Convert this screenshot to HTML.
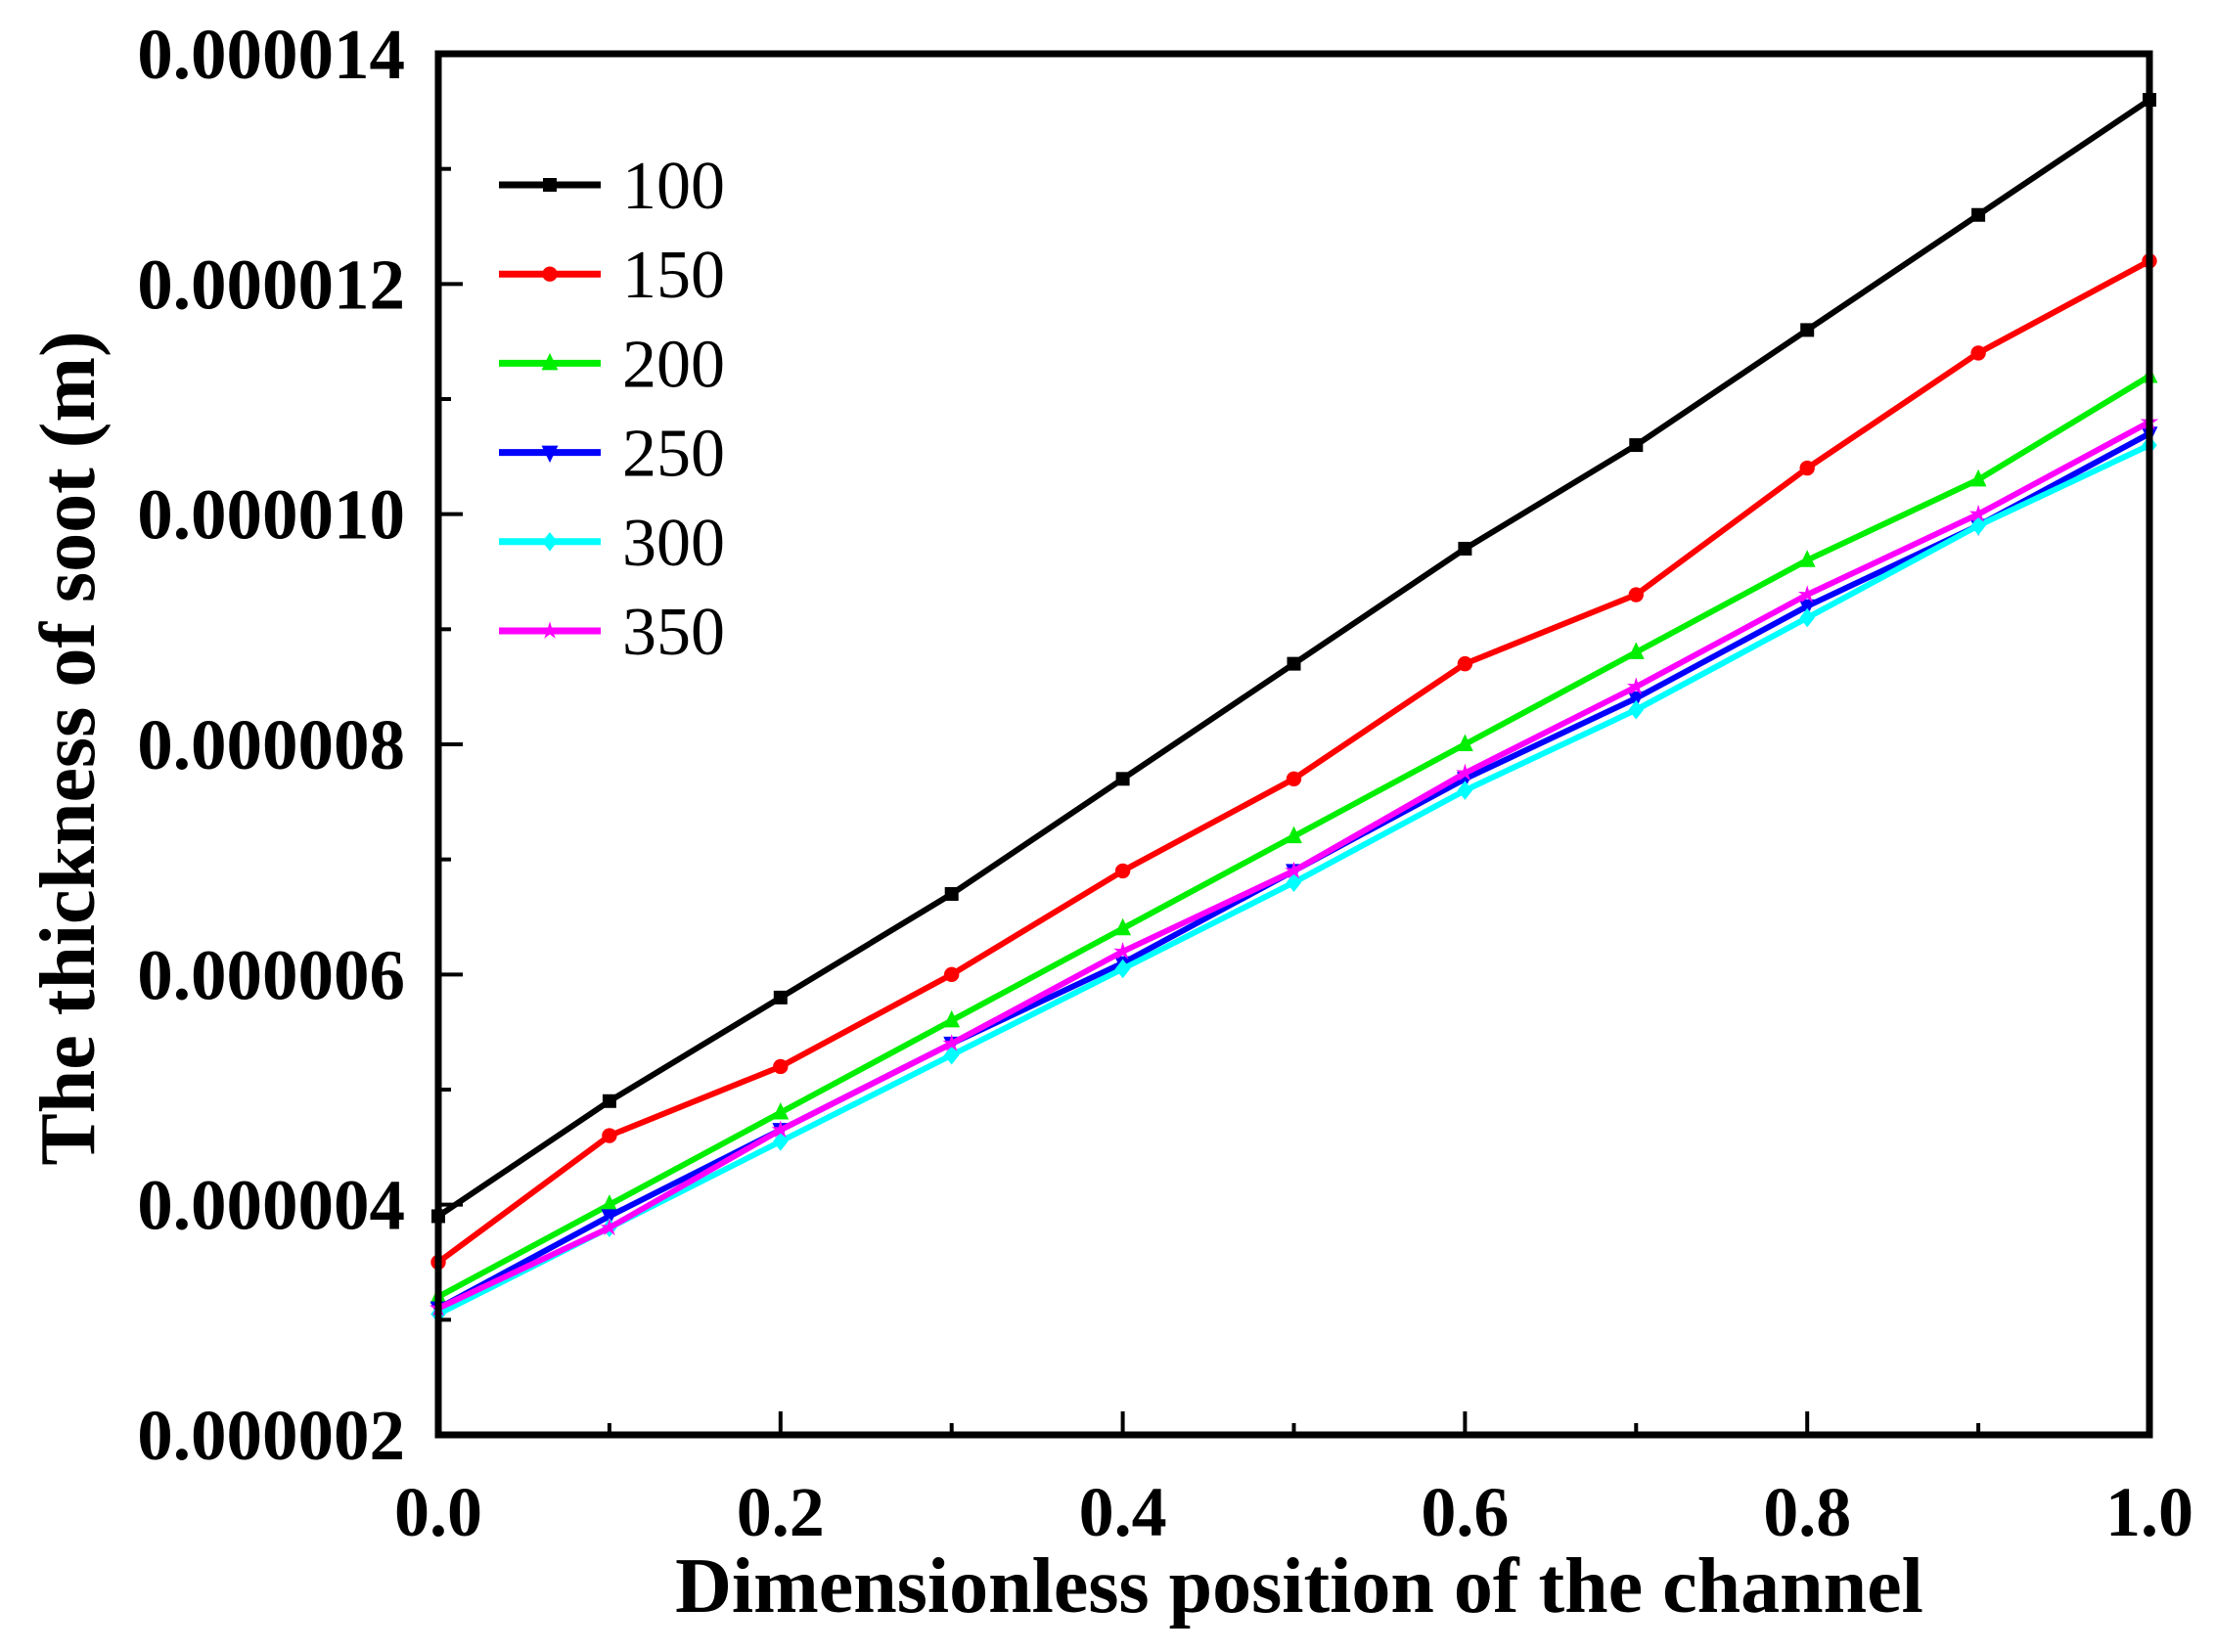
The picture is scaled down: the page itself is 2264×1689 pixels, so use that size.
<!DOCTYPE html>
<html><head><meta charset="utf-8"><style>
html,body{margin:0;padding:0;background:#fff}
svg{display:block}
text{font-family:"Liberation Serif","Times New Roman",serif}
</style></head><body>
<svg id="chart" width="2264" height="1689" viewBox="0 0 2264 1689" xmlns="http://www.w3.org/2000/svg">
<g id="plot"></g>
<g id="axes"></g>
<g id="legend"></g>
<text x="1328" y="1648" font-size="80" font-weight="bold" text-anchor="middle">Dimensionless position of the channel</text>
<text transform="translate(96,765) rotate(-90)" font-size="80" font-weight="bold" text-anchor="middle">The thickness of soot (m)</text>
</svg>
<script>
const xValues = [0,0.1,0.2,0.3,0.4,0.5,0.6,0.7,0.8,0.9,1.0];
const seriesNames = ["100","150","200","250","300","350"];
const s100 = [3.9,4.9,5.8,6.7,7.7,8.7,9.7,10.6,11.6,12.6,13.6];
const s150 = [3.5,4.6,5.2,6.0,6.9,7.7,8.7,9.3,10.4,11.4,12.2];
const s200 = [3.2,4.0,4.8,5.6,6.4,7.2,8.0,8.8,9.6,10.3,11.2];
const s250 = [3.1,3.9,4.65,5.4,6.1,6.9,7.7,8.4,9.2,9.9,10.7];
const s300 = [3.05,3.8,4.55,5.3,6.05,6.8,7.6,8.3,9.1,9.9,10.6];
const s350 = [3.1,3.8,4.65,5.4,6.2,6.9,7.75,8.5,9.3,10.0,10.8];
const xTicks = [0,0.2,0.4,0.6,0.8,1.0];
const xTickLabels = ["0.0","0.2","0.4","0.6","0.8","1.0"];
const yTicks = [2,4,6,8,10,12,14];
const yTickLabels = ["0.000002","0.000004","0.000006","0.000008","0.000010","0.000012","0.000014"];

const NS="http://www.w3.org/2000/svg";
const L=448,R=2197,T=55,B=1467;
const X=v=>L+(v-0)/(1-0)*(R-L);
const Y=v=>B-(v-2)/(14-2)*(B-T);
const colors=["#000000","#ff0000","#00ee00","#0000ff","#00ffff","#ff00ff"];
const markers=["square","circle","up","down","diamond","star"];
const allSeries=[s100,s150,s200,s250,s300,s350];
function mk(tag,attrs,parent){const e=document.createElementNS(NS,tag);for(const k in attrs)e.setAttribute(k,attrs[k]);parent.appendChild(e);return e;}
function marker(kind,cx,cy,col,parent,s){
  let e;
  if(kind==="square")e=mk("rect",{x:cx-s,y:cy-s,width:2*s,height:2*s,fill:col},parent);
  else if(kind==="circle")e=mk("circle",{cx:cx,cy:cy,r:s*1.1,fill:col},parent);
  else if(kind==="up")e=mk("polygon",{points:`${cx},${cy-s*1.5} ${cx-s*1.2},${cy+s} ${cx+s*1.2},${cy+s}`,fill:col},parent);
  else if(kind==="down")e=mk("polygon",{points:`${cx},${cy+s*1.5} ${cx-s*1.2},${cy-s} ${cx+s*1.2},${cy-s}`,fill:col},parent);
  else if(kind==="diamond")e=mk("polygon",{points:`${cx},${cy-s*1.4} ${cx+s*1.1},${cy} ${cx},${cy+s*1.4} ${cx-s*1.1},${cy}`,fill:col},parent);
  else {let p=[];for(let i=0;i<10;i++){const a=-Math.PI/2+i*Math.PI/5,r=i%2?s*0.5:s*1.4;p.push((cx+r*Math.cos(a)).toFixed(1)+","+(cy+r*Math.sin(a)).toFixed(1));}
    e=mk("polygon",{points:p.join(" "),fill:col},parent);}
  return e;
}
const plot=document.getElementById("plot");
allSeries.forEach((arr,si)=>{
  const g=mk("g",{},plot);
  
  
  const pts=arr.map((v,i)=>X(xValues[i]).toFixed(1)+","+Y(v).toFixed(1)).join(" ");
  const pl=mk("polyline",{points:pts,fill:"none",stroke:colors[si],"stroke-width":6,"stroke-linejoin":"round"},g);
  
  
  arr.forEach((v,i)=>{
    const m=marker(markers[si],X(xValues[i]),Y(v),colors[si],g,7);
    
    
  });
});
const axes=document.getElementById("axes");
const frame=mk("rect",{x:L,y:T,width:R-L,height:B-T,fill:"none",stroke:"#000","stroke-width":7},axes);


for(let v=0;v<=1.0001;v+=0.1){
  const major=Math.round(v*10)%2===0;
  mk("line",{x1:X(v),x2:X(v),y1:B,y2:B-(major?24:12),stroke:"#000","stroke-width":4},axes);
}
for(let v=2;v<=14.001;v+=1){
  const major=Math.round(v)%2===0;
  mk("line",{x1:L,x2:L+(major?25:13),y1:Y(v),y2:Y(v),stroke:"#000","stroke-width":4},axes);
}
xTicks.forEach((v,i)=>{
  const t=mk("text",{x:X(v),y:1570,"font-size":72,"font-weight":"bold","text-anchor":"middle"},axes);
  t.textContent=xTickLabels[i];
  
  
});
yTicks.forEach((v,i)=>{
  const t=mk("text",{x:414,y:Y(v)+25,"font-size":73,"font-weight":"bold","text-anchor":"end"},axes);
  t.textContent=yTickLabels[i];
  
  
});
const legend=document.getElementById("legend");
seriesNames.forEach((n,i)=>{
  const y=189+i*91.2;
  const g=mk("g",{},legend);
  
  
  mk("line",{x1:510,x2:614,y1:y,y2:y,stroke:colors[i],"stroke-width":7},g);
  marker(markers[i],562,y,colors[i],g,7);
  const t=mk("text",{x:636,y:y+24,"font-size":70},g);
  t.textContent=n;
});
</script>
</body></html>
